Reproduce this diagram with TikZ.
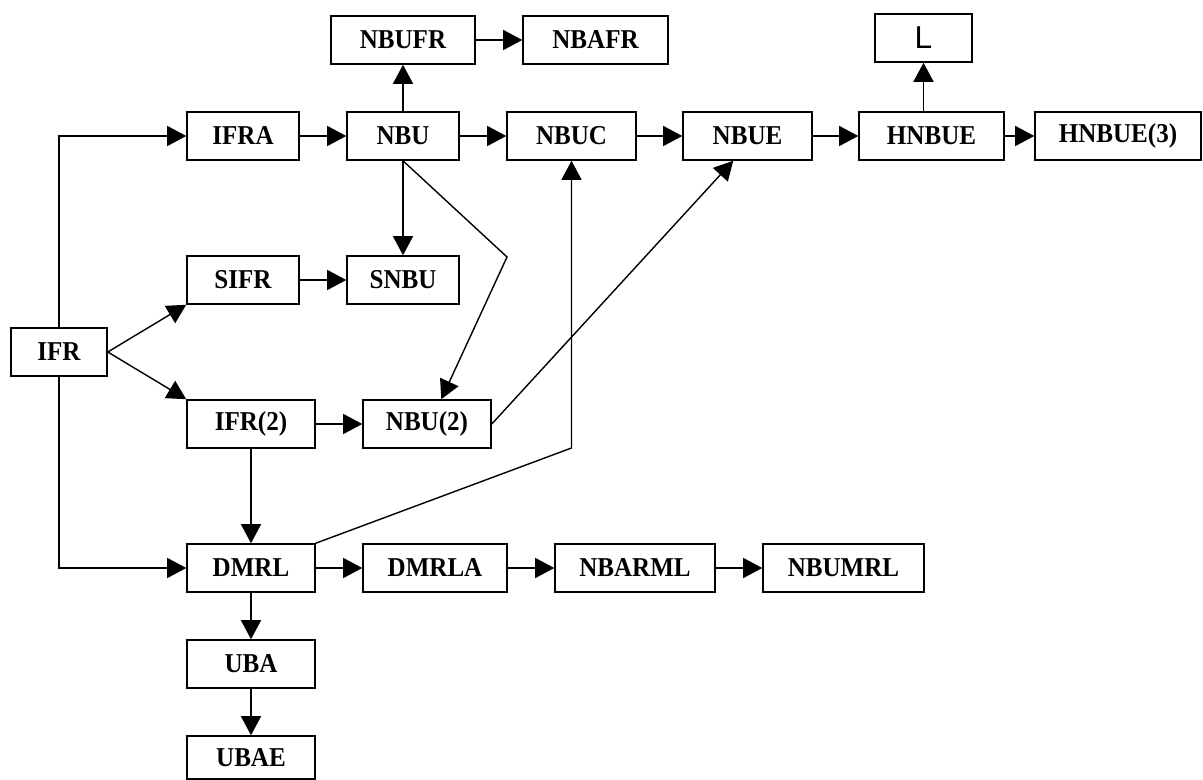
\documentclass[tikz,border=0pt]{standalone}
\usepackage{fontspec}
\setmainfont{Liberation Serif}[FakeStretch = 0.92]
\newfontfamily\lsans{Liberation Sans}
\usepackage{tikz}
\usetikzlibrary{arrows.meta}
\tikzset{box/.style = {shape = rectangle, draw, line width = 0.9pt, minimum height = 0.96cm, inner sep = 0pt, font = \fontsize{15.5}{18}\selectfont\bfseries}}
\tikzset{edge/.style = {-{Triangle[length = 0.38cm, width = 0.4cm]}, line width = 0.8pt}}

\begin{document}
\begin{tikzpicture}[x = 0.02cm, y = -0.02cm]
			\useasboundingbox (0, 0) rectangle (1203, 780);

			\node[box, minimum width = 1.92cm] (ifr) at (59, 352) {IFR};
			\node[box, minimum width = 2.24cm] (ifra) at (243, 136) {IFRA};
			\node[box, minimum width = 2.24cm] (nbu) at (403, 136) {NBU};
			\node[box, minimum width = 2.58cm] (nbuc) at (571.5, 136) {NBUC};
			\node[box, minimum width = 2.58cm] (nbue) at (747.5, 136) {NBUE};
			\node[box, minimum width = 2.90cm] (hnbue) at (931.5, 136) {HNBUE};
			\node[box, minimum width = 3.32cm] (hnbuethree) at (1118, 136) {HNBUE(3)};
			\node[box, minimum width = 2.88cm] (nbufr) at (403, 40) {NBUFR};
			\node[box, minimum width = 2.90cm] (nbafr) at (595.5, 40) {NBAFR};
			\node[box, minimum width = 1.94cm, font = \fontsize{18}{20}\selectfont\lsans] (lbox) at (923.5, 38) {L};
			\node[box, minimum width = 2.24cm] (sifr) at (243, 280) {SIFR};
			\node[box, minimum width = 2.24cm] (snbu) at (403, 280) {SNBU};
			\node[box, minimum width = 2.56cm] (ifrtwo) at (251, 424) {IFR(2)};
			\node[box, minimum width = 2.56cm] (nbutwo) at (427, 424) {NBU(2)};
			\node[box, minimum width = 2.56cm] (dmrl) at (251, 568) {DMRL};
			\node[box, minimum width = 2.88cm] (dmrla) at (435, 568) {DMRLA};
			\node[box, minimum width = 3.20cm] (nbarml) at (635, 568) {NBARML};
			\node[box, minimum width = 3.22cm] (nbumrl) at (843.5, 568) {NBUMRL};
			\node[box, minimum width = 2.56cm] (uba) at (251, 664) {UBA};
			\node[box, minimum width = 2.56cm, minimum height = 0.86cm] (ubae) at (251, 757.5) {UBAE};

			\coordinate (kink) at (507, 257);
			\coordinate (bend) at (571.5, 448);

			\draw[edge] (ifr.north) |- (ifra.west);
			\draw[edge] (ifr.south) |- (dmrl.west);
			\draw[edge] (ifr.east) -- (sifr.south west);
			\draw[edge] (ifr.east) -- (ifrtwo.north west);
			\draw[edge] (ifra) -- (nbu);
			\draw[edge] (nbu) -- (nbuc);
			\draw[edge] (nbuc) -- (nbue);
			\draw[edge] (nbue) -- (hnbue);
			\draw[edge] (hnbue) -- (hnbuethree);
			\draw[edge] (nbu) -- (nbufr);
			\draw[edge] (nbufr) -- (nbafr);
			\draw[edge] (hnbue.north -| lbox.south) -- (lbox.south);
			\draw[edge] (nbu) -- (snbu);
			\draw[edge] (sifr) -- (snbu);
			\draw[edge] (nbu.south) -- (kink) -- (nbutwo.60);
			\draw[edge] (ifrtwo) -- (nbutwo);
			\draw[edge] (nbutwo.east) -- (nbue.-120);
			\draw[edge] (dmrl.north east) -- (bend) -- (nbuc.south);
			\draw[edge] (ifrtwo) -- (dmrl);
			\draw[edge] (dmrl) -- (dmrla);
			\draw[edge] (dmrla) -- (nbarml);
			\draw[edge] (nbarml) -- (nbumrl);
			\draw[edge] (dmrl) -- (uba);
			\draw[edge] (uba) -- (ubae);
		\end{tikzpicture}
\end{document}
